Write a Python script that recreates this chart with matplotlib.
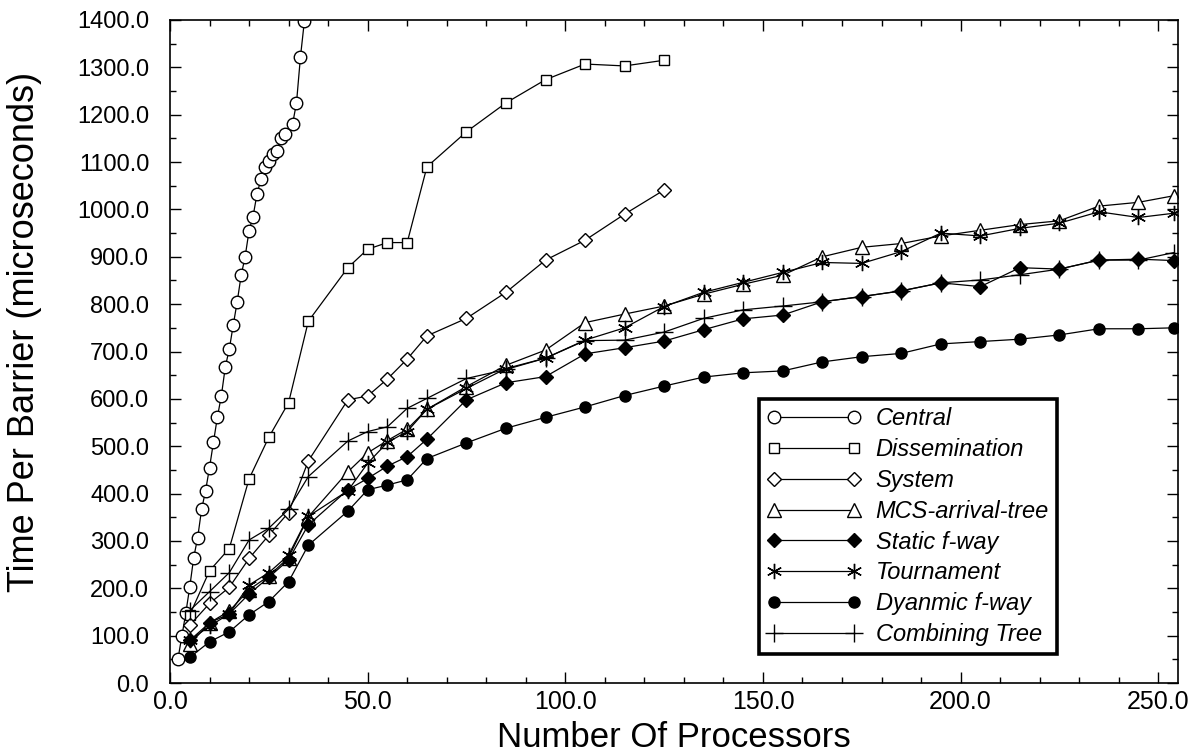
import matplotlib
matplotlib.use('Agg')
import matplotlib.pyplot as plt
from matplotlib.ticker import MultipleLocator, FormatStrFormatter

plt.rcParams['font.family'] = ['Liberation Sans', 'DejaVu Sans']

# ---- data ----
central_x = [2, 3, 4, 5, 6, 7, 8, 9, 10, 11, 12, 13, 14, 15, 16, 17, 18, 19, 20,
             21, 22, 23, 24, 25, 26, 27, 28, 29, 31, 32, 33, 34]
central_y = [50, 99, 148, 203, 265, 307, 367, 406, 455, 509, 562, 607, 668, 705,
             756, 805, 861, 900, 955, 985, 1032, 1064, 1089, 1102, 1118, 1124,
             1150, 1160, 1180, 1225, 1322, 1398]

short_x = [5, 10, 15, 20, 25, 30, 35, 45, 50, 55, 60, 65, 75, 85, 95, 105, 115, 125]
dissem_y = [144, 237, 284, 431, 519, 592, 764, 877, 916, 930, 930, 1090, 1164,
            1225, 1274, 1307, 1303, 1315]
system_y = [122, 168, 202, 263, 312, 360, 469, 598, 606, 642, 684, 733, 770,
            825, 893, 935, 990, 1041]

long_x = [5, 10, 15, 20, 25, 30, 35, 45, 50, 55, 60, 65, 75, 85, 95, 105, 115,
          125, 135, 145, 155, 165, 175, 185, 195, 205, 215, 225, 235, 245, 254]
mcs_y = [82, 127, 152, 197, 226, 265, 351, 446, 486, 512, 536, 578, 626, 671,
         703, 761, 779, 796, 821, 842, 861, 900, 920, 928, 944, 956, 968, 976,
         1007, 1015, 1029]
static_y = [90, 127, 146, 188, 223, 260, 334, 408, 432, 458, 478, 515, 598, 634,
            647, 695, 708, 722, 746, 769, 777, 805, 816, 828, 845, 837, 877, 874,
            893, 895, 892]
tourn_y = [90, 120, 146, 207, 233, 270, 352, 406, 464, 508, 531, 578, 622, 664,
           686, 724, 750, 795, 825, 846, 867, 888, 886, 911, 950, 944, 960, 971,
           995, 983, 992]
dynamic_y = [54, 87, 108, 144, 172, 214, 291, 363, 408, 418, 429, 474, 507, 538,
             561, 583, 607, 627, 646, 655, 659, 678, 689, 696, 716, 721, 726, 735,
             748, 748, 750]
combine_y = [153, 193, 233, 302, 327, 367, 436, 511, 531, 541, 580, 601, 643, 662,
             686, 723, 724, 741, 770, 788, 796, 805, 816, 828, 845, 851, 862, 874,
             893, 893, 909]

fig = plt.figure(figsize=(12.04, 7.56), dpi=100)
ax = fig.add_axes([170 / 1204, 1 - 683 / 756, 1008 / 1204, 663 / 756])

line_kw = dict(color='black', linewidth=0.9, markeredgecolor='black',
               markeredgewidth=1.0)

ax.plot(central_x, central_y, marker='o', markersize=9, markerfacecolor='white',
        label='Central', **line_kw)
ax.plot(short_x, dissem_y, marker='s', markersize=7.5, markerfacecolor='white',
        label='Dissemination', **line_kw)
ax.plot(short_x, system_y, marker='D', markersize=7, markerfacecolor='white',
        label='System', **line_kw)
ax.plot(long_x, mcs_y, marker='^', markersize=10, markerfacecolor='white',
        label='MCS-arrival-tree', **line_kw)
ax.plot(long_x, static_y, marker='D', markersize=7.5, markerfacecolor='black',
        label='Static f-way', **line_kw)
ax.plot(long_x, tourn_y, marker=(6, 2, 0), markersize=11, markerfacecolor='black',
        label='Tournament', **line_kw)
ax.plot(long_x, dynamic_y, marker='o', markersize=8, markerfacecolor='black',
        label='Dyanmic f-way', **line_kw)
ax.plot(long_x, combine_y, marker='+', markersize=13, markerfacecolor='black',
        label='Combining Tree', **line_kw)

ax.set_xlim(0, 255)
ax.set_ylim(0, 1400)
ax.xaxis.set_major_locator(MultipleLocator(50))
ax.xaxis.set_minor_locator(MultipleLocator(10))
ax.yaxis.set_major_locator(MultipleLocator(100))
ax.yaxis.set_minor_locator(MultipleLocator(50))
ax.xaxis.set_major_formatter(FormatStrFormatter('%.1f'))
ax.yaxis.set_major_formatter(FormatStrFormatter('%.1f'))

ax.tick_params(which='both', direction='in', top=True, right=True, width=1.0)
ax.tick_params(which='major', length=8)
ax.tick_params(which='minor', length=4.5)
ax.tick_params(axis='x', which='major', labelsize=18, pad=5)
ax.tick_params(axis='y', which='major', labelsize=17, pad=15)
for s in ax.spines.values():
    s.set_linewidth(1.2)

ax.set_xlabel('Number Of Processors', fontsize=25, labelpad=5)
ax.set_ylabel('Time Per Barrier (microseconds)', fontsize=26)
ax.yaxis.set_label_coords(-0.127, 0.53)

leg = ax.legend(loc='upper left', bbox_to_anchor=(0.584, 0.428),
                borderaxespad=0, fancybox=False, framealpha=1,
                edgecolor='black', numpoints=2, handlelength=4.0,
                handletextpad=0.6, labelspacing=0.33, borderpad=0.35,
                prop=dict(family='Liberation Sans', style='italic', size=17))
leg.get_frame().set_linewidth(2.6)

fig.savefig('out.png', dpi=100)
